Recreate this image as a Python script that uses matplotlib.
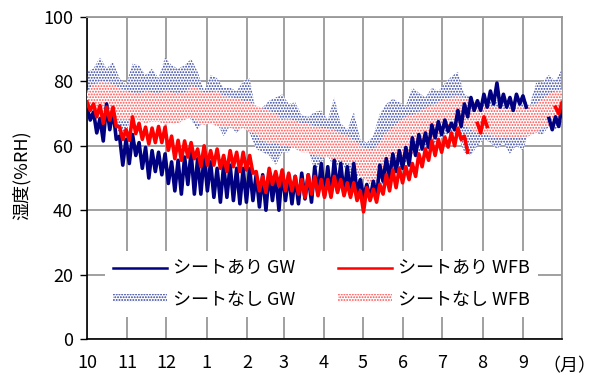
import matplotlib.pyplot as plt
from matplotlib.lines import Line2D
from matplotlib.patches import Patch
import numpy as np

plt.rcParams['font.family'] = ['Noto Sans CJK JP', 'DejaVu Sans']
plt.rcParams['hatch.linewidth'] = 0.9

nan = np.nan

# readings every 5 days, day 0 = 1 Oct, day 365 = 30 Sep
days = np.arange(0, 366, 5)

month_len = [31, 30, 31, 31, 28, 31, 30, 31, 30, 31, 31, 30]
month_labels = ['10', '11', '12', '1', '2', '3', '4', '5', '6', '7', '8', '9']

# シートなし GW (daily max / min)
gw_open_hi = [83, 84, 87.5, 84, 86, 81, 79, 85.5, 85, 82, 84, 81, 87.5, 85, 84, 85,
              87, 83, 77, 82, 81, 78, 78, 77, 80, 81, 70, 72, 74, 75,
              76, 73, 73.5, 69.5, 69, 70.5, 71, 68, 75, 67, 65, 70.5, 62, 61, 63,
              70, 73, 74.6, 73.5, 72.5, 78, 76.5, 75, 78, 77, 79.5, 81.5, 83, 76,
              75, 73, 74, 75, 74, 74.5, 72.5, 72, 75, 72.5, 79.5, 80, 82, 80, 84]
gw_open_lo = [74, 76, 74, 72, 70, 63, 64, 70, 68, 67, 71, 71, 68, 70, 70, 71,
              68, 65, 68, 67, 67, 63, 66, 64, 66, 64, 59, 58, 57, 54,
              58, 58, 62, 60, 59, 52, 55, 57, 53, 55, 52, 49, 51, 49, 47,
              46, 50, 52, 53, 55, 57, 58, 59, 60, 62, 63, 64, 63, 58,
              57, 60, 62, 61, 59, 61, 57.5, 60, 58.5, 65, 64, 63.5, 66, 65, 67]

# シートなし WFB
wfb_open_hi = [77, 79, 80, 80, 79, 78, 77, 76.5, 76, 77, 76.5, 76, 77, 76.5, 76, 76.5,
               78.5, 78, 76.5, 76.5, 77, 75.5, 75, 74.8, 74, 73.5, 72.5, 71.5, 71, 70,
               68, 68.5, 67.5, 67, 67, 66, 65.5, 65.3, 64.8, 63.7, 63, 61.8, 60, 59, 58.5,
               61, 64, 65.5, 67.5, 69, 69.5, 70.5, 71.5, 72.6, 73.5, 74.5, 75, 75.5, 75,
               74, 73, 72, 72, 71.8, 71.5, 71.5, 71.5, 72, 72.5, 73, 74.5, 76, 77, 77.5]
wfb_open_lo = [72, 71, 70, 69, 69, 68, 68, 68.5, 68, 67, 67.5, 67.5, 66.5, 67, 67, 68,
               69, 67, 66.5, 67, 66, 65.5, 65.5, 65, 65.5, 64.5, 63.5, 61.5, 60.5, 61,
               60, 60, 59, 58, 58, 57, 56.5, 56.5, 55.5, 55.5, 54.5, 53.5, 50, 49.5, 47,
               48.5, 51, 53, 55, 56, 57, 59, 61, 62, 63, 64.8, 66, 67, 66.5,
               65, 64, 64, 63, 62.7, 62.7, 62.7, 62.7, 62.7, 63, 64, 65.5, 66, 66.5, 68]

# シートあり GW
gw_sheet_hi = [72, 70.5, 68.5, 73, 71, 63, 62, 63.5, 61, 59.5, 58.5, 58, 57.5, 55, 55.5, 56.5,
               58, 56, 57, 55, 53, 54, 54, 53, 53, 53, 51, 51, 52, 51,
               52, 51, 50.5, 51.5, 51, 53.5, 54.5, 53.5, 55.5, 54.5, 53.5, 54.5, 49.5, 48, 49,
               54, 56, 57.5, 58.5, 59.5, 62.5, 63.5, 64, 66.5, 67.5, 68, 67, 71, 73,
               75, 74, 76, 77, 79.5, 76, 75, 76, 75.5, nan, nan, nan, 68.5, 69, 72.5]
gw_sheet_lo = [68, 64, 61.5, 65, 62, 54, 54.5, 57, 53, 50, 52, 51, 48.3, 46, 45, 48,
               45, 45, 46, 44, 42.5, 44, 43, 42, 42.5, 43, 41, 40, 43, 40,
               43, 42, 42, 43.5, 42.5, 45, 44.5, 44.5, 46, 45, 45, 45.5, 44, 43.5, 44,
               49, 50, 52, 53, 54, 57, 59, 59.5, 62.5, 63.5, 64.5, 65, 66, 69,
               71, 71, 72, 73, 72, 72, 71, 73, 72, nan, nan, nan, 65, 66, 69]

# シートあり WFB
wfb_sheet_hi = [73.6, 73, 72.5, 72, 72, 66, 65, 69, 67, 65.8, 65.5, 66, 65.8, 63, 61.7, 61.5,
                61, 59, 60, 58.5, 59, 57, 58.5, 58, 58, 57, 52, 50.5, 53, 52,
                52.5, 51.5, 50.5, 49.5, 51, 50.5, 49.5, 49.5, 50.5, 49.5, 48.5, 48.5, 46, 47, 46.5,
                48, 51, 52.5, 53, 53.5, 54.5, 57.5, 59, 61.5, 62, 62.7, 64, 65.5, 63,
                nan, 67, 69, nan, nan, nan, nan, nan, nan, nan, nan, nan, nan, 72, 73.5]
wfb_sheet_lo = [71, 69, 67, 68, 66, 62, 61.7, 63.8, 62, 60.6, 61, 61, 58.6, 56, 55.5, 56.5,
                56, 53.5, 54, 54, 53, 52, 53.5, 52, 52.5, 51.5, 46, 45.5, 48, 47.5,
                46, 46, 45, 44, 45, 44.5, 44, 44, 45.5, 44.5, 44, 43, 39.5, 43, 42.5,
                45, 46, 47, 48.5, 49.5, 50.5, 53.5, 55.5, 57, 58, 59.6, 60, 62, 58,
                nan, 64, 66, nan, nan, nan, nan, nan, nan, nan, nan, nan, nan, 70, 71]

NAVY = '#000080'
RED = '#ff0000'
DOT_BLUE = '#2c3c9c'
DOT_PINK = '#ff4a4a'
GRID = '#999999'


def zigzag(hi, lo):
    # max at the reading day, min half a step later
    x = np.column_stack([days, days + 2.5]).ravel()
    y = np.column_stack([hi, lo]).ravel()
    return x, y


fig = plt.figure(figsize=(5.97, 3.80), dpi=100)
ax = fig.add_axes([87 / 597, 1 - 339 / 380, 475 / 597, 322 / 380])

ax.fill_between(days, gw_open_lo, gw_open_hi, facecolor='white', edgecolor=DOT_BLUE,
                hatch='......', linewidth=0, zorder=2)
ax.fill_between(days, wfb_open_lo, wfb_open_hi, facecolor='white', edgecolor=DOT_PINK,
                hatch='......', linewidth=0, zorder=3)
ax.plot(*zigzag(gw_sheet_hi, gw_sheet_lo), color=NAVY, lw=2.6, zorder=4)
ax.plot(*zigzag(wfb_sheet_hi, wfb_sheet_lo), color=RED, lw=2.6, zorder=5)

month_edges = np.concatenate([[0], np.cumsum(month_len)])
ax.set_xlim(0, 365)
ax.set_ylim(0, 100)
ax.set_xticks(month_edges)
ax.set_xticklabels(month_labels + [''])
ax.set_yticks([0, 20, 40, 60, 80, 100])
ax.tick_params(axis='x', length=0, pad=11, labelsize=13)
ax.tick_params(axis='y', direction='out', length=5, width=1, pad=5, labelsize=13)
ax.grid(True, color=GRID, lw=1.3, zorder=0)
ax.set_axisbelow(True)
for side in ('top', 'right'):
    ax.spines[side].set_color(GRID)
    ax.spines[side].set_linewidth(1.3)
for side in ('left', 'bottom'):
    ax.spines[side].set_color('black')
    ax.spines[side].set_linewidth(1.2)

fig.text(22 / 597, 1 - 175 / 380, '湿度(%RH)', rotation=90, ha='center', va='center', fontsize=13)
fig.text(569 / 597, 1 - 366 / 380, '（月）', ha='center', va='center', fontsize=13)

handles = [
    Line2D([], [], color=NAVY, lw=1.8),
    Patch(facecolor='white', edgecolor=DOT_BLUE, hatch='......', linewidth=0),
    Line2D([], [], color=RED, lw=1.8),
    Patch(facecolor='white', edgecolor=DOT_PINK, hatch='......', linewidth=0),
]
labels = ['シートあり GW', 'シートなし GW', 'シートあり WFB', 'シートなし WFB']
leg = ax.legend(handles, labels, ncol=2, loc='upper left',
                bbox_to_anchor=(105 / 597, 1 - 251 / 380), bbox_transform=fig.transFigure,
                fontsize=13, frameon=True, fancybox=False, framealpha=1,
                edgecolor='none', facecolor='white', borderaxespad=0, borderpad=0.45,
                handlelength=3.0, handleheight=0.35, handletextpad=0.3,
                columnspacing=2.4, labelspacing=0.75)
leg.set_zorder(10)

fig.savefig('out.png', dpi=100)
